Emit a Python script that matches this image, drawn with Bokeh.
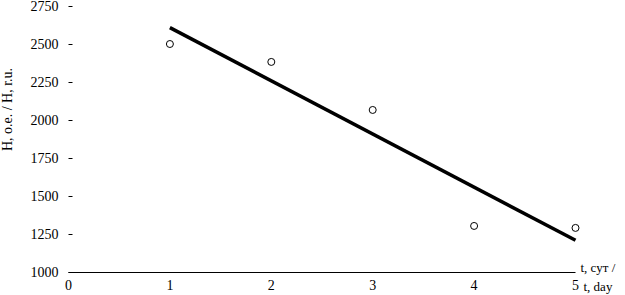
import numpy as np
from bokeh.plotting import figure
from bokeh.models import Label, FixedTicker, Range1d
from bokeh.embed import file_html
from bokeh.resources import INLINE

days = [1, 2, 3, 4, 5]
h_values = [2500, 2382, 2066, 1303, 1290]
x_ticks = [0, 1, 2, 3, 4, 5]
y_ticks = [1000, 1250, 1500, 1750, 2000, 2250, 2500, 2750]

FONT = "Liberation Serif"

W, H = 625, 295
# axis placement on the canvas (pixels)
X0_PX, X5_PX = 68, 575
Y1000_PX, Y2750_PX = 271.5, 5.5
xs = (X5_PX - X0_PX) / 5.0
ys = (Y1000_PX - Y2750_PX) / 1750.0
x_range = Range1d(0 - X0_PX / xs, 5 + (W - X5_PX) / xs)
y_range = Range1d(1000 - (H - Y1000_PX) / ys, 2750 + Y2750_PX / ys)

p = figure(width=W, height=H, output_backend="svg", toolbar_location=None,
           x_range=x_range, y_range=y_range,
           min_border_left=0, min_border_right=0, min_border_top=0, min_border_bottom=0)
p.outline_line_color = None
p.grid.visible = False
p.background_fill_color = "white"
p.border_fill_color = "white"

# trend line (least squares fit of the data)
k, b = np.polyfit(days, h_values, 1)
tx = [days[0], days[-1]]
p.line(tx, [k * v + b for v in tx], line_color="black", line_width=3.5)
p.scatter(days, h_values, size=7, fill_color="white", line_color="black", line_width=1)

xa = p.xaxis[0]
xa.fixed_location = 1000
xa.bounds = (0, 5)
xa.ticker = FixedTicker(ticks=x_ticks)
xa.major_tick_in = 0
xa.major_tick_out = 0
xa.minor_tick_line_color = None
xa.axis_line_color = "black"
xa.axis_line_width = 1
xa.major_label_text_font = FONT
xa.major_label_text_font_size = "14px"
xa.major_label_text_color = "black"
xa.major_label_standoff = 8

ya = p.yaxis[0]
ya.fixed_location = 0
ya.bounds = (1000, 2750)
ya.ticker = FixedTicker(ticks=y_ticks)
ya.major_tick_in = 4
ya.major_tick_out = 0
ya.minor_tick_line_color = None
ya.axis_line_color = None
ya.major_tick_line_color = "black"
ya.major_label_text_font = FONT
ya.major_label_text_font_size = "14px"
ya.major_label_text_color = "black"
ya.major_label_standoff = 10

p.add_layout(Label(x=x_range.start, x_offset=7, y=2069, text="H, o.e. / H, r.u.", angle=np.pi / 2,
                   text_align="center", text_baseline="middle",
                   text_font=FONT, text_font_size="14px", text_color="black"))
p.add_layout(Label(x=5, y=1000, x_offset=5, y_offset=5, text="t, сут /",
                   text_align="left", text_baseline="middle",
                   text_font=FONT, text_font_size="13px", text_color="black"))
p.add_layout(Label(x=5, y=1000, x_offset=8, y_offset=-14, text="t, day",
                   text_align="left", text_baseline="middle",
                   text_font=FONT, text_font_size="13px", text_color="black"))

open("out.html", "w").write(file_html(p, INLINE))
